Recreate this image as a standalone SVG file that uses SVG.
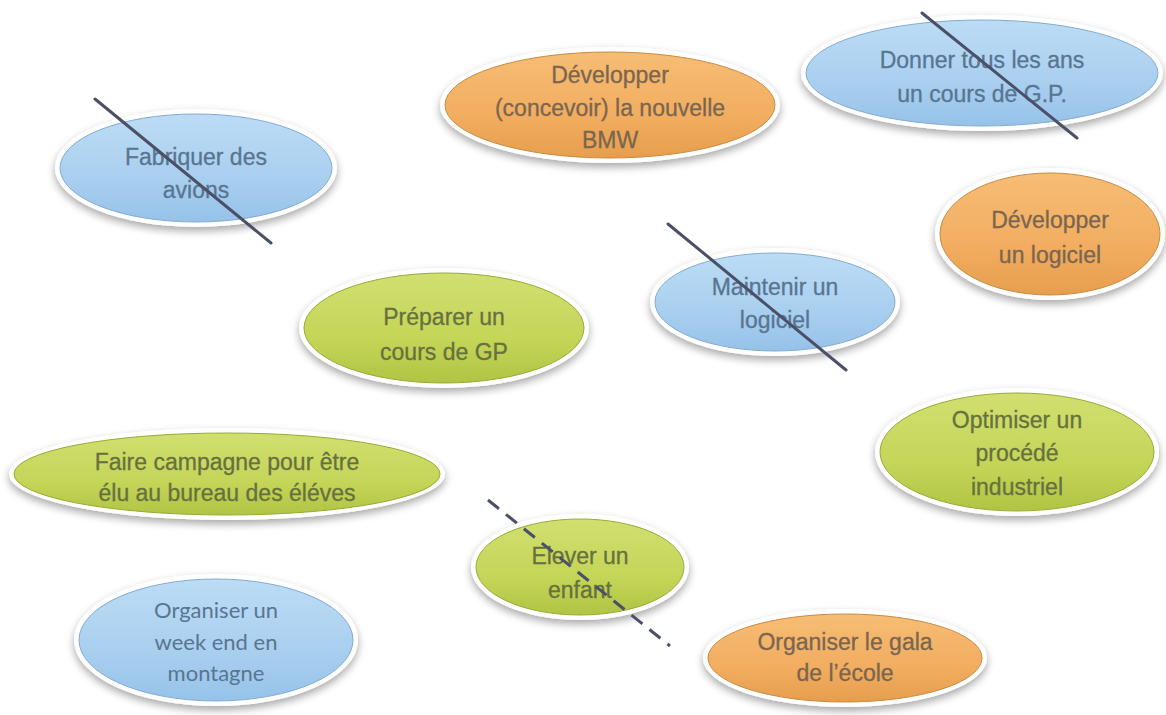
<svg xmlns="http://www.w3.org/2000/svg" width="1166" height="715" viewBox="0 0 1166 715">
  <defs>
    <filter id="shadow" x="-20%" y="-30%" width="140%" height="160%">
      <feGaussianBlur in="SourceAlpha" stdDeviation="4"/>
      <feOffset dx="0" dy="4" result="b"/>
      <feComponentTransfer><feFuncA type="linear" slope="0.35"/></feComponentTransfer>
      <feMerge><feMergeNode/><feMergeNode in="SourceGraphic"/></feMerge>
    </filter>
    <linearGradient id="gBlue" x1="0" y1="0" x2="0" y2="1">
      <stop offset="0" stop-color="#bcdcf5"/>
      <stop offset="0.6" stop-color="#a9cfef"/>
      <stop offset="1" stop-color="#96c2e8"/>
    </linearGradient>
    <linearGradient id="gOrange" x1="0" y1="0" x2="0" y2="1">
      <stop offset="0" stop-color="#f6bd74"/>
      <stop offset="0.6" stop-color="#f2ad60"/>
      <stop offset="1" stop-color="#e69e4e"/>
    </linearGradient>
    <linearGradient id="gGreen" x1="0" y1="0" x2="0" y2="1">
      <stop offset="0" stop-color="#d2df70"/>
      <stop offset="0.6" stop-color="#c4d558"/>
      <stop offset="1" stop-color="#b2c444"/>
    </linearGradient>
    <style>
      .rim { fill: #ffffff; filter: url(#shadow); }
      .blue { fill: url(#gBlue); stroke: #84abd0; stroke-width: 1; }
      .orange { fill: url(#gOrange); stroke: #c98a40; stroke-width: 1; }
      .green { fill: url(#gGreen); stroke: #98aa34; stroke-width: 1; }
      text { font-family: "Liberation Sans", Arial, sans-serif; font-size: 23px; text-anchor: middle; stroke-width: 0.3; }
      .tb { fill: #587591; stroke: #587591; }
      .to { fill: #7a6650; stroke: #7a6650; }
      .tg { fill: #66713f; stroke: #66713f; }
      .cal { font-family: Lato, "Open Sans", sans-serif; font-size: 22px; stroke: none; }
      .strike { stroke: #4a5068; stroke-width: 3; stroke-linecap: round; fill: none; }
      .dash { stroke-dasharray: 14 9; stroke-linecap: butt; }
    </style>
  </defs>

  <rect width="1166" height="715" fill="#ffffff"/>

  <g id="fabriquer">
    <ellipse class="rim" cx="196" cy="168" rx="141" ry="59"/>
    <ellipse class="blue" cx="196" cy="168" rx="136" ry="54"/>
    <text class="tb" x="196" y="165">Fabriquer des</text>
    <text class="tb" x="196" y="198">avions</text>
  </g>

  <g id="bmw">
    <ellipse class="rim" cx="610" cy="105" rx="170" ry="58"/>
    <ellipse class="orange" cx="610" cy="105" rx="165" ry="53"/>
    <text class="to" x="610" y="83">Développer</text>
    <text class="to" x="610" y="116">(concevoir) la nouvelle</text>
    <text class="to" x="610" y="148">BMW</text>
  </g>

  <g id="donner">
    <ellipse class="rim" cx="982" cy="73" rx="181" ry="58"/>
    <ellipse class="blue" cx="982" cy="73" rx="176" ry="53"/>
    <text class="tb" x="982" y="68">Donner tous les ans</text>
    <text class="tb" x="982" y="102">un cours de G.P.</text>
  </g>

  <g id="dev-logiciel">
    <ellipse class="rim" cx="1050" cy="234" rx="115" ry="66"/>
    <ellipse class="orange" cx="1050" cy="234" rx="110" ry="61"/>
    <text class="to" x="1050" y="228">Développer</text>
    <text class="to" x="1050" y="263">un logiciel</text>
  </g>

  <g id="maintenir">
    <ellipse class="rim" cx="775" cy="302" rx="125" ry="54"/>
    <ellipse class="blue" cx="775" cy="302" rx="120" ry="49"/>
    <text class="tb" x="775" y="295">Maintenir un</text>
    <text class="tb" x="775" y="328">logiciel</text>
  </g>

  <g id="preparer">
    <ellipse class="rim" cx="444" cy="328" rx="145" ry="60"/>
    <ellipse class="green" cx="444" cy="328" rx="140" ry="55"/>
    <text class="tg" x="444" y="325">Préparer un</text>
    <text class="tg" x="444" y="360">cours de GP</text>
  </g>

  <g id="optimiser">
    <ellipse class="rim" cx="1017" cy="452" rx="142" ry="64"/>
    <ellipse class="green" cx="1017" cy="452" rx="137" ry="59"/>
    <text class="tg" x="1017" y="428">Optimiser un</text>
    <text class="tg" x="1017" y="461">procédé</text>
    <text class="tg" x="1017" y="495">industriel</text>
  </g>

  <g id="campagne">
    <ellipse class="rim" cx="227" cy="474" rx="218" ry="46"/>
    <ellipse class="green" cx="227" cy="474" rx="213" ry="41"/>
    <text class="tg" x="227" y="470">Faire campagne pour être</text>
    <text class="tg" x="227" y="501">élu au bureau des éléves</text>
  </g>

  <g id="elever">
    <ellipse class="rim" cx="580" cy="567" rx="109" ry="53"/>
    <ellipse class="green" cx="580" cy="567" rx="104" ry="48"/>
    <text class="tg" x="580" y="564">Elever un</text>
    <text class="tg" x="580" y="598">enfant</text>
  </g>

  <g id="weekend">
    <ellipse class="rim" cx="216" cy="640" rx="142" ry="66"/>
    <ellipse class="blue" cx="216" cy="640" rx="137" ry="61"/>
    <text class="tb cal" x="216" y="618">Organiser un</text>
    <text class="tb cal" x="216" y="650">week end en</text>
    <text class="tb cal" x="216" y="681">montagne</text>
  </g>

  <g id="gala">
    <ellipse class="rim" cx="845" cy="658" rx="142" ry="49"/>
    <ellipse class="orange" cx="845" cy="658" rx="137" ry="44"/>
    <text class="to" x="845" y="650">Organiser le gala</text>
    <text class="to" x="845" y="681">de l’école</text>
  </g>

  <g id="strikes">
    <line class="strike" x1="95" y1="99" x2="271" y2="243"/>
    <line class="strike" x1="922" y1="13" x2="1077" y2="138"/>
    <line class="strike" x1="668" y1="224" x2="846" y2="370"/>
    <line class="strike dash" x1="488" y1="500" x2="670" y2="646"/>
  </g>
</svg>
